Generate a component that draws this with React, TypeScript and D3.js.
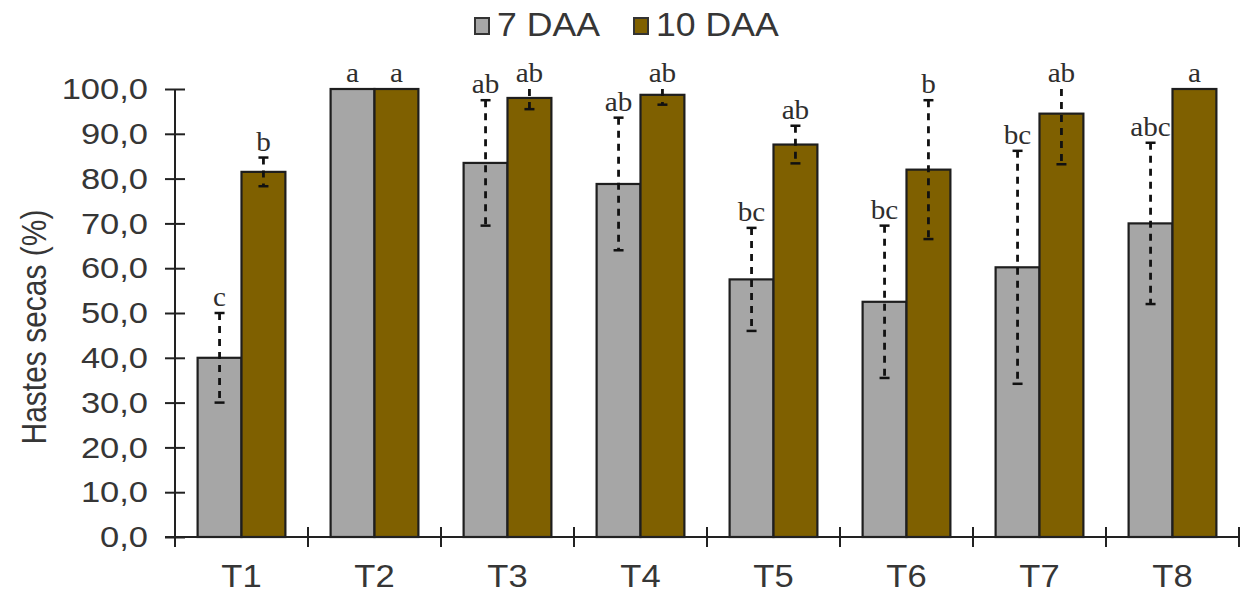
import React, { useEffect, useRef } from 'react';
import * as d3 from 'd3';

// treatments and series
const categories = ['T1', 'T2', 'T3', 'T4', 'T5', 'T6', 'T7', 'T8'];
const seriesNames = ['7 DAA', '10 DAA'];
const seriesColors = ['#a6a6a6', '#7f6000'];

// mean values (%)
const daa7 = [40.0, 100.0, 83.5, 78.8, 57.5, 52.5, 60.2, 70.0];
const daa10 = [81.5, 100.0, 98.0, 98.7, 87.6, 82.0, 94.5, 100.0];

// error bar half-widths
const err7 = [10.0, 0, 14.0, 14.8, 11.5, 17.0, 26.0, 18.0];
const err10 = [3.2, 0, 2.5, 2.2, 4.2, 15.5, 11.3, 0];

// significance letters
const letters7 = ['c', 'a', 'ab', 'ab', 'bc', 'bc', 'bc', 'abc'];
const letters10 = ['b', 'a', 'ab', 'ab', 'ab', 'b', 'ab', 'a'];

const yTicks = [0, 10, 20, 30, 40, 50, 60, 70, 80, 90, 100];

const W = 1244;
const H = 597;
const textColor = '#363636';
const sans = '"Liberation Sans", Arial, sans-serif';
const stretch = 1.15; // source picture is slightly wide
const fmt = (v: number) => d3.format('.1f')(v).replace('.', ',');

const App = () => {
  const ref = useRef<SVGSVGElement>(null);

  useEffect(() => {
    const svg = d3.select(ref.current);
    svg.selectAll('*').remove();

    const x0 = d3.scaleBand<string>()
      .domain(categories)
      .range([175, 1239])
      .paddingInner(0.34)
      .paddingOuter(0.17);
    const x1 = d3.scaleBand<string>()
      .domain(seriesNames)
      .range([0, x0.bandwidth()]);
    const y = d3.scaleLinear().domain([0, 100]).range([537, 89]);

    const rows = categories.map((c, i) => ({
      cat: c,
      vals: [
        { s: seriesNames[0], v: daa7[i], e: err7[i], l: letters7[i], col: seriesColors[0] },
        { s: seriesNames[1], v: daa10[i], e: err10[i], l: letters10[i], col: seriesColors[1] },
      ],
    }));

    // bars
    const g = svg.append('g');
    const groups = g.selectAll('g.grp')
      .data(rows)
      .join('g')
      .attr('class', 'grp')
      .attr('transform', d => `translate(${x0(d.cat)},0)`);

    groups.selectAll('rect')
      .data(d => d.vals)
      .join('rect')
      .attr('x', d => x1(d.s)!)
      .attr('y', d => y(d.v))
      .attr('width', x1.bandwidth())
      .attr('height', d => y(0) - y(d.v))
      .attr('fill', d => d.col)
      .attr('stroke', '#1e1e1e')
      .attr('stroke-width', 2.2);

    // error bars
    const eb = groups.selectAll('g.err')
      .data(d => d.vals.filter(v => v.e > 0))
      .join('g')
      .attr('class', 'err')
      .attr('transform', d => `translate(${x1(d.s)! + x1.bandwidth() / 2},0)`);
    eb.append('line')
      .attr('y1', d => y(Math.min(100, d.v + d.e)))
      .attr('y2', d => y(d.v - d.e))
      .attr('stroke', '#111')
      .attr('stroke-width', 2.8)
      .attr('stroke-dasharray', '7,6');
    eb.append('line')
      .attr('x1', -5).attr('x2', 5)
      .attr('y1', d => y(d.v - d.e)).attr('y2', d => y(d.v - d.e))
      .attr('stroke', '#111').attr('stroke-width', 2.5);
    eb.filter(d => d.v + d.e <= 100).append('line')
      .attr('x1', -5).attr('x2', 5)
      .attr('y1', d => y(d.v + d.e)).attr('y2', d => y(d.v + d.e))
      .attr('stroke', '#111').attr('stroke-width', 2.5);

    // letters
    groups.selectAll('text.lt')
      .data(d => d.vals)
      .join('text')
      .attr('class', 'lt')
      .attr('transform', d => `translate(${x1(d.s)! + x1.bandwidth() / 2},${y(Math.min(100, d.v + d.e)) - 7}) scale(1.08,1)`)
      .attr('text-anchor', 'middle')
      .attr('font-family', '"Liberation Serif", "DejaVu Serif", serif')
      .attr('font-size', 27)
      .attr('fill', '#2e2e2e')
      .text(d => d.l);

    // y axis
    const yAxis = svg.append('g')
      .attr('transform', 'translate(175,0)')
      .call(d3.axisLeft(y).tickValues(yTicks).tickSize(10).tickPadding(17).tickFormat(d => fmt(+d)));
    yAxis.select('.domain').remove();
    yAxis.selectAll('.tick line').attr('x1', 10).attr('x2', -10).attr('stroke', '#222').attr('stroke-width', 2);
    yAxis.selectAll('.tick text')
      .attr('x', 0)
      .attr('transform', `translate(-27,0) scale(${stretch},1)`)
      .attr('font-family', sans)
      .attr('font-size', 30)
      .attr('fill', textColor);
    yAxis.append('line')
      .attr('y1', y(100)).attr('y2', y(0) + 10)
      .attr('stroke', '#222').attr('stroke-width', 2);

    // x axis
    const xAxis = svg.append('g').attr('transform', `translate(0,${y(0)})`);
    xAxis.append('line')
      .attr('x1', 165).attr('x2', 1239)
      .attr('stroke', '#222').attr('stroke-width', 2);
    xAxis.selectAll('line.tk')
      .data(categories)
      .join('line')
      .attr('class', 'tk')
      .attr('x1', d => x0(d)! - x0.step() * 0.17 + x0.step())
      .attr('x2', d => x0(d)! - x0.step() * 0.17 + x0.step())
      .attr('y1', -10).attr('y2', 10)
      .attr('stroke', '#222').attr('stroke-width', 2);
    xAxis.selectAll('text')
      .data(categories)
      .join('text')
      .attr('transform', d => `translate(${x0(d)! + x0.bandwidth() / 2},50) scale(1.08,1)`)
      .attr('text-anchor', 'middle')
      .attr('font-family', sans)
      .attr('font-size', 32)
      .attr('fill', textColor)
      .text(d => d);

    // y title
    svg.append('text')
      .attr('transform', `translate(46,${(y(0) + y(100)) / 2 + 14}) rotate(-90) scale(1,${stretch})`)
      .attr('text-anchor', 'middle')
      .attr('font-family', sans)
      .attr('font-size', 30)
      .attr('fill', textColor)
      .text('Hastes secas (%)');

    // legend
    const legendX = [475, 634];
    const leg = svg.append('g')
      .selectAll('g')
      .data(seriesNames)
      .join('g')
      .attr('transform', (d, i) => `translate(${legendX[i]},18)`);
    leg.append('rect')
      .attr('width', 14).attr('height', 16)
      .attr('fill', (d, i) => seriesColors[i])
      .attr('stroke', '#333').attr('stroke-width', 2);
    leg.append('text')
      .attr('transform', 'translate(22,18) scale(1.08,1)')
      .attr('font-family', sans)
      .attr('font-size', 33)
      .attr('fill', textColor)
      .text(d => d);
  });

  return (
    <svg
      ref={ref}
      width={W}
      height={H}
      viewBox={`0 0 ${W} ${H}`}
      style={{ position: 'absolute', left: 0, top: 0, background: '#fff' }}
    />
  );
};

export default App;
